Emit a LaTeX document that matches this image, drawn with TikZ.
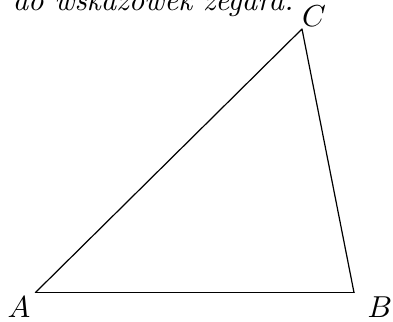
\documentclass[tikz,border=0pt]{standalone}
\begin{document}
\begin{tikzpicture}[x=0.33pt, y=0.33pt, line join=round, line cap=round]
\useasboundingbox (0,0) rectangle (393,322);
\path
(35.5,29.5) coordinate (A)
(354,29.5) coordinate (B)
(302,293) coordinate (C);
\node[anchor=base west, inner sep=0pt, font=\itshape] (txt) at (12,311) {do wskazówek zegara.};
\draw (A)--(C)--(B);
\draw[semithick] (A)--(B);
\foreach \x/\p in {A/{(19,15)},B/{(380,15)},C/{(314,306)}} \node (l\x) at \p {$\x$};
\end{tikzpicture}
\end{document}
